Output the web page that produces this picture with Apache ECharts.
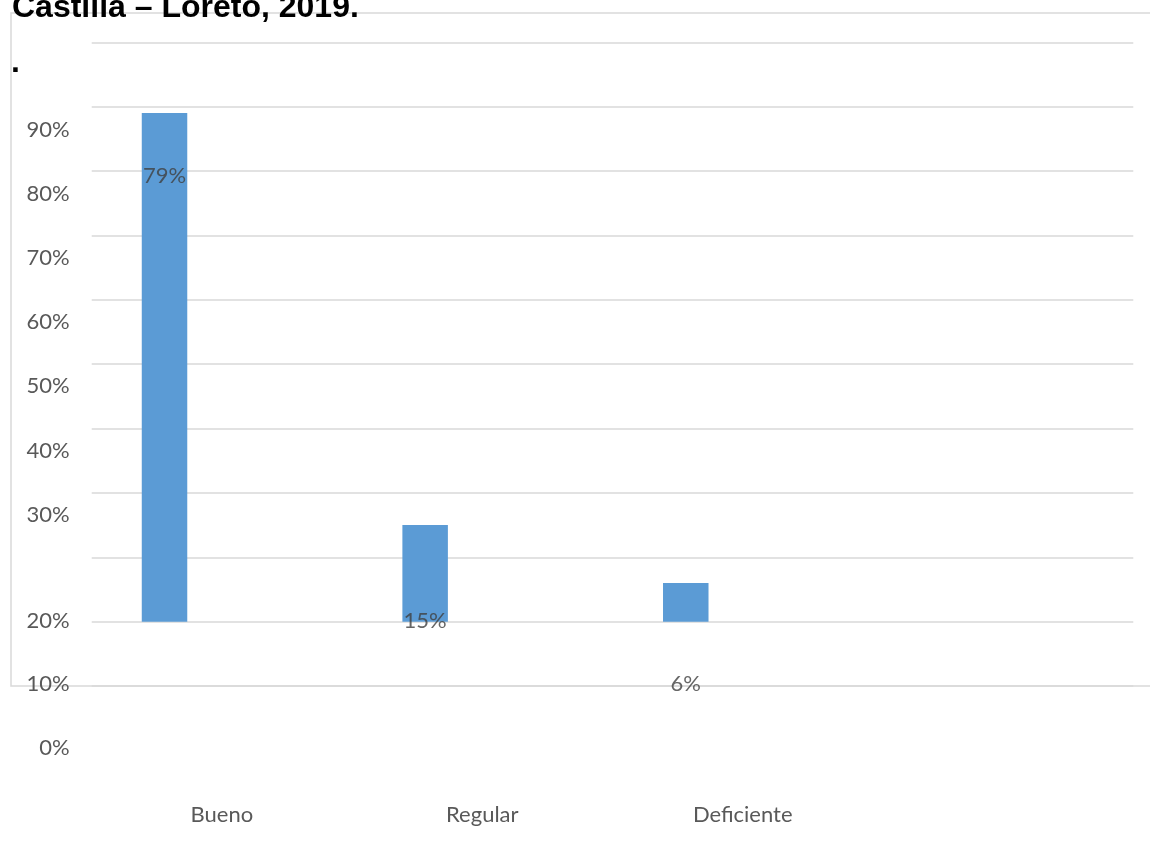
<!DOCTYPE html>
<html>
<head>
<meta charset="utf-8">
<title>Castilla – Loreto, 2019.</title>
<script src="https://cdn.jsdelivr.net/npm/echarts@6/dist/echarts.min.js"></script>
<style>
  html, body { margin: 0; padding: 0; background: #ffffff; }
  #chart { width: 1150px; height: 841px; }
</style>
</head>
<body>
<div id="chart"></div>
<script>
// Categories and percentage values
const categories = ['Bueno', 'Regular', 'Deficiente', ''];
const values = [79, 15, 6];
// Value-axis level at which each data label sits
const labelAnchor = [69.3, 0.1, -9.7];
// Tick labels of the left scale, in two runs
const upperTicks = { min: 30, max: 90, step: 10 };
const lowerTicks = { min: 0, max: 20, step: 10 };

const labelFont = 'Lato, "Open Sans", sans-serif';
const pct = v => v + '%';

const chart = echarts.init(document.getElementById('chart'), null, { renderer: 'canvas' });

const hiddenCat = { type: 'category', show: false, data: categories };
const hiddenVal = { type: 'value', show: false, min: 0, max: 1 };

chart.setOption({
  animation: false,
  backgroundColor: '#ffffff',
  graphic: [
    {
      type: 'rect', z: 0, silent: true,
      shape: { x: 11, y: 13, width: 1150, height: 673 },
      style: { fill: 'none', stroke: '#d9d9d9', lineWidth: 1.5 }
    },
    {
      type: 'text', z: 10, left: 12, top: -8,
      style: {
        text: 'Castilla – Loreto, 2019.',
        fill: '#000000',
        font: 'bold 32px "Liberation Sans", Arial, sans-serif'
      }
    },
    {
      type: 'text', z: 10, left: 11, top: 47,
      style: {
        text: '.',
        fill: '#000000',
        font: 'bold 32px "Liberation Sans", Arial, sans-serif'
      }
    }
  ],
  grid: [
    // gridlines and category labels
    { left: 91.7, right: 16.7, top: 42.3, bottom: 155, containLabel: false },
    // upper run of tick labels
    { left: 91.7, right: 16.7, top: 130, bottom: 326.5, containLabel: false },
    // lower run of tick labels
    { left: 91.7, right: 16.7, top: 620.5, bottom: 93.5, containLabel: false },
    // bars and their labels
    { left: 34.2, right: 73.3, top: 42.3, bottom: 155, containLabel: false }
  ],
  xAxis: [
    {
      type: 'category', gridIndex: 0, data: categories,
      axisLine: { show: false }, axisTick: { show: false },
      axisLabel: { color: '#595959', fontFamily: labelFont, fontSize: 22, margin: 118 }
    },
    Object.assign({ gridIndex: 1 }, hiddenVal),
    Object.assign({ gridIndex: 2 }, hiddenVal),
    Object.assign({ gridIndex: 3 }, hiddenCat)
  ],
  yAxis: [
    {
      type: 'value', gridIndex: 0, min: -10, max: 90, interval: 10,
      axisLine: { show: false }, axisTick: { show: false },
      axisLabel: { show: false },
      splitLine: { show: true, lineStyle: { color: '#d9d9d9', width: 1.5 } }
    },
    {
      type: 'value', gridIndex: 1,
      min: upperTicks.min, max: upperTicks.max, interval: upperTicks.step,
      axisLine: { show: false }, axisTick: { show: false }, splitLine: { show: false },
      axisLabel: { formatter: pct, color: '#595959', fontFamily: labelFont, fontSize: 22, margin: 22 }
    },
    {
      type: 'value', gridIndex: 2,
      min: lowerTicks.min, max: lowerTicks.max, interval: lowerTicks.step,
      axisLine: { show: false }, axisTick: { show: false }, splitLine: { show: false },
      axisLabel: { formatter: pct, color: '#595959', fontFamily: labelFont, fontSize: 22, margin: 22 }
    },
    {
      type: 'value', gridIndex: 3, min: -10, max: 90, interval: 10, show: false
    }
  ],
  series: [
    {
      type: 'bar', xAxisIndex: 3, yAxisIndex: 3,
      data: values,
      barWidth: 45.5,
      itemStyle: { color: '#5b9bd5' },
      z: 3
    },
    {
      type: 'scatter', xAxisIndex: 3, yAxisIndex: 3,
      data: labelAnchor.map((a, i) => [i, a]),
      symbolSize: 0,
      silent: true,
      z: 5,
      label: {
        show: true, position: 'inside',
        formatter: p => pct(values[p.dataIndex]),
        color: '#404040', fontFamily: labelFont, fontSize: 22
      }
    }
  ]
});
</script>
</body>
</html>
